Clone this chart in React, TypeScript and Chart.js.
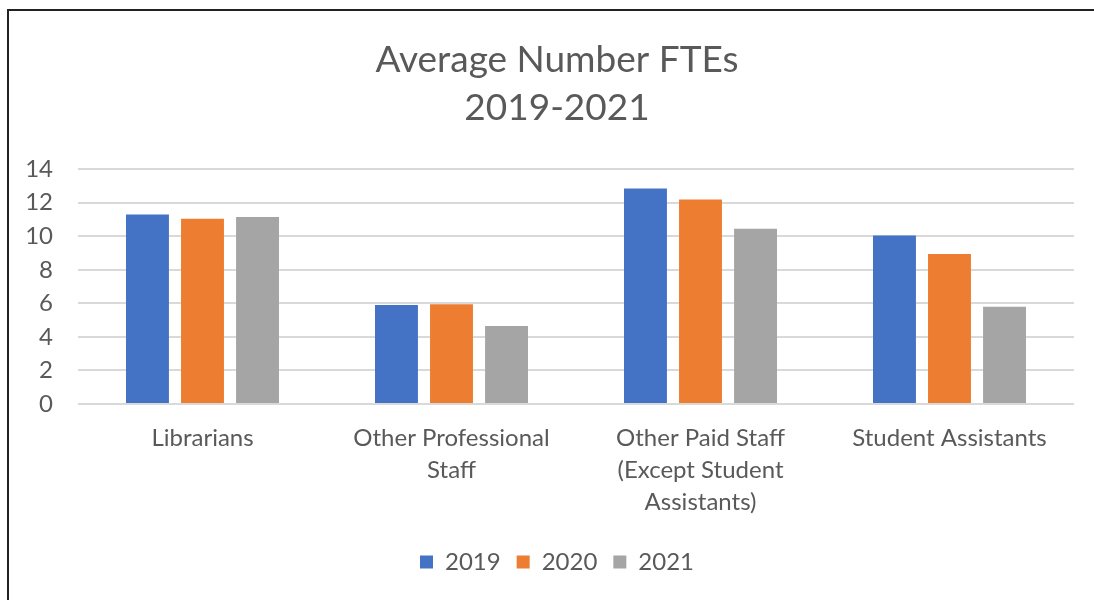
import React, { useEffect, useRef } from "react";
import { Chart, registerables } from "chart.js";

Chart.register(...registerables);

const categories: string[][] = [
  ["Librarians"],
  ["Other Professional", "Staff"],
  ["Other Paid Staff", "(Except Student", "Assistants)"],
  ["Student Assistants"],
];
const seriesNames = ["2019", "2020", "2021"];
const values2019 = [11.3, 5.9, 12.85, 10.05];
const values2020 = [11.05, 5.95, 12.2, 8.95];
const values2021 = [11.15, 4.65, 10.45, 5.8];
const seriesColors = ["#4472C4", "#ED7D31", "#A5A5A5"];
const titleLines = ["Average Number FTEs", "2019-2021"];
const yMin = 0;
const yMax = 14;
const yStep = 2;

const FONT = "Lato, 'Noto Sans', sans-serif";
const TEXT = "#595959";

export default function App() {
  const ref = useRef<HTMLCanvasElement>(null);
  useEffect(() => {
    if (!ref.current) return;
    const data = [values2019, values2020, values2021];
    const chart = new Chart(ref.current, {
      type: "bar",
      data: {
        labels: categories,
        datasets: seriesNames.map((name, i) => ({
          label: name,
          data: data[i],
          backgroundColor: seriesColors[i],
          borderWidth: 0,
          categoryPercentage: 0.663,
          barPercentage: 0.78,
          yAxisID: "y",
        })),
      },
      options: {
        animation: false,
        responsive: false,
        devicePixelRatio: 1,
        layout: { padding: { left: 20, right: 0, top: 0, bottom: 16 } },
        plugins: {
          title: {
            display: true,
            text: titleLines,
            color: TEXT,
            font: { family: FONT, size: 37, weight: "normal", lineHeight: 1.3 },
            padding: { top: 36, bottom: 37 },
          },
          legend: {
            position: "bottom",
            labels: {
              color: TEXT,
              font: { family: FONT, size: 24 },
              boxWidth: 13,
              boxHeight: 13,
              padding: 16,
            },
          },
          tooltip: { enabled: false },
        },
        scales: {
          x: {
            grid: { display: false, drawTicks: false },
            border: { display: false },
            ticks: {
              color: TEXT,
              font: { family: FONT, size: 24, lineHeight: 1.333 },
              padding: 18,
              maxRotation: 0,
              autoSkip: false,
            },
            afterFit: (scale: any) => {
              scale.height -= 2;
            },
          },
          y: {
            min: yMin,
            max: yMax,
            grid: { color: "#D9D9D9", lineWidth: 2, drawTicks: false },
            border: { display: false },
            ticks: {
              stepSize: yStep,
              color: TEXT,
              font: { family: FONT, size: 24 },
              padding: 25,
            },
            afterFit: (scale: any) => {
              scale.width = 58;
            },
          },
          yRight: {
            position: "right",
            min: yMin,
            max: yMax,
            grid: { display: false, drawTicks: false },
            border: { display: false },
            ticks: { display: false },
            afterFit: (scale: any) => {
              scale.width = 20;
            },
          },
        },
      },
    });
    return () => chart.destroy();
  }, []);
  return (
    <div style={{ position: "fixed", left: 0, top: 0, width: 1094, height: 600, background: "#fff", overflow: "hidden" }}>
      <canvas ref={ref} width={1094} height={600} style={{ position: "absolute", left: 0, top: 0 }} />
      <div
        style={{
          position: "absolute",
          left: 7,
          top: 9,
          width: 2000,
          height: 2000,
          borderLeft: "2px solid #222",
          borderTop: "2px solid #222",
          pointerEvents: "none",
        }}
      />
    </div>
  );
}
